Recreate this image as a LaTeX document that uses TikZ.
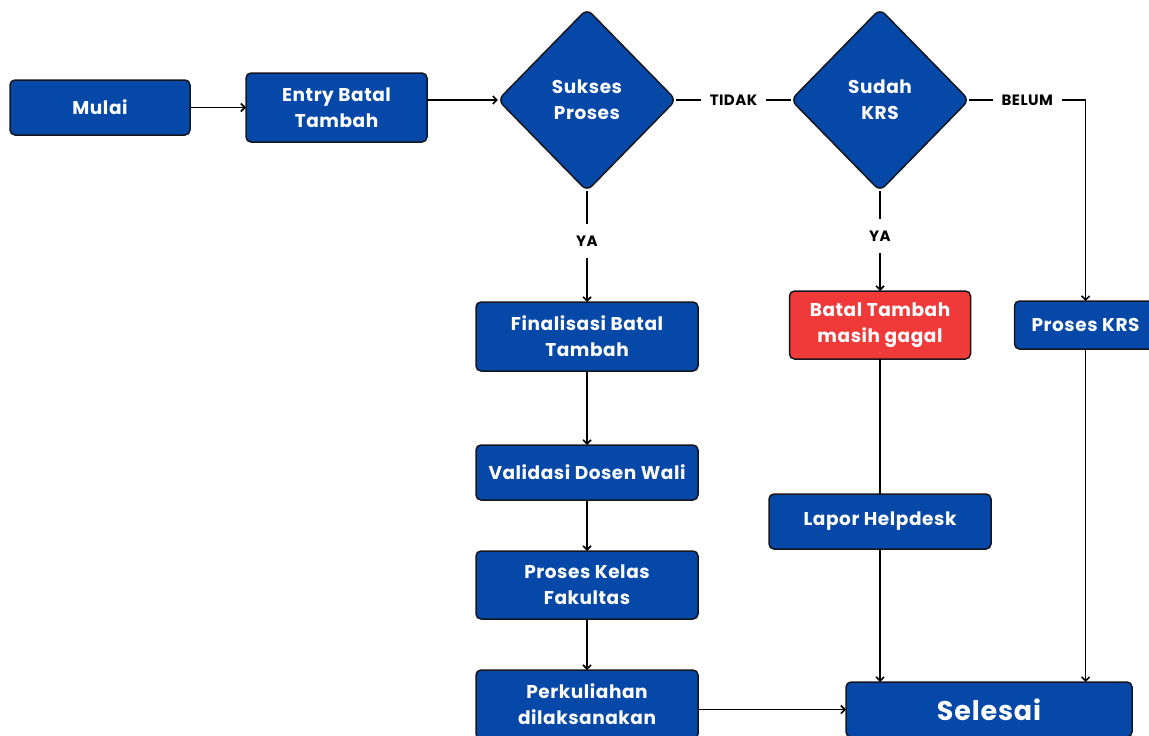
\documentclass[tikz,border=0pt]{standalone}
\usepackage{fontspec}
\setmainfont{Poppins}[LetterSpace=3]
\usetikzlibrary{positioning,arrows.meta,shapes.geometric}
\definecolor{flowblue}{RGB}{6,72,168}
\definecolor{flowred}{RGB}{240,58,58}
\definecolor{flowline}{RGB}{22,22,30}

\begin{document}
\begin{tikzpicture}[x=1pt, y=1pt,
        box/.style={draw=flowline, line width=1.5pt, fill=flowblue, rounded corners=5pt, align=center, inner sep=0pt, outer sep=0pt, text=white, font=\bfseries\fontsize{18.5}{26}\selectfont},
        decision/.style={box, diamond, rounded corners=7pt, minimum width=178pt, minimum height=182pt},
        lbl/.style={fill=white, inner xsep=9pt, inner ysep=12pt, font=\bfseries\fontsize{15}{17}\selectfont},
        >={Straight Barb[length=4pt,width=8pt]}, line width=1.6pt]
        \useasboundingbox (0,0) rectangle (1149,-736);
        \clip (0,0) rectangle (1149,-736);
        \node[box, minimum width=180pt, minimum height=55pt] (mulai) at (100,-107.5) {Mulai};
        \node[box, minimum width=181pt, minimum height=69pt, right=56pt of mulai] (entry) {Entry Batal\\Tambah};
        \node[decision, right=71pt of entry, yshift=7.5pt] (sukses) {Sukses\\Proses};
        \node[decision, right=115pt of sukses] (sudah) {Sudah\\KRS};
        \node[box, minimum width=222pt, minimum height=69pt, below=111pt of sukses] (final) {Finalisasi Batal\\Tambah};
        \node[box, minimum width=222pt, minimum height=55pt, below=74pt of final] (validasi) {Validasi Dosen Wali};
        \node[box, minimum width=222pt, minimum height=68pt, below=51pt of validasi] (kelas) {Proses Kelas\\Fakultas};
        \node[box, minimum width=222pt, minimum height=69pt, below=51pt of kelas] (kuliah) {Perkuliahan\\dilaksanakan};
        \node[box, fill=flowred, minimum width=181pt, minimum height=68pt, below=100pt of sudah] (gagal) {Batal Tambah\\masih gagal};
        \node[box, minimum width=222pt, minimum height=55pt, below=135pt of gagal] (lapor) {Lapor Helpdesk};
        \node[box, minimum width=142pt, minimum height=48pt, right=44pt of gagal] (krs) {Proses KRS};
        \node[box, minimum width=286pt, minimum height=55pt, right=148pt of kuliah, yshift=-5pt, font=\bfseries\fontsize{27}{30}\selectfont] (selesai) {Selesai};
        \draw[->] (mulai) -- (entry);
        \draw[->] (entry.east |- sukses) -- (sukses);
        \draw (sukses) -- node[lbl] {TIDAK} (sudah);
        \draw[->] (sudah) -- node[lbl] {BELUM} (sudah -| krs) -- (krs);
        \draw[->] (sukses) -- node[lbl, pos=0.45] {YA} (final);
        \draw[->] (sudah) -- node[lbl, pos=0.45] {YA} (gagal);
        \draw[->] (final) -- (validasi);
        \draw[->] (validasi) -- (kelas);
        \draw[->] (kelas) -- (kuliah);
        \draw[->] (kuliah.east |- selesai) -- (selesai);
        \draw (gagal) -- (lapor);
        \draw[->] (lapor) -- (lapor |- selesai.north);
        \draw[->] (krs) -- (krs |- selesai.north);
\end{tikzpicture}
\end{document}
